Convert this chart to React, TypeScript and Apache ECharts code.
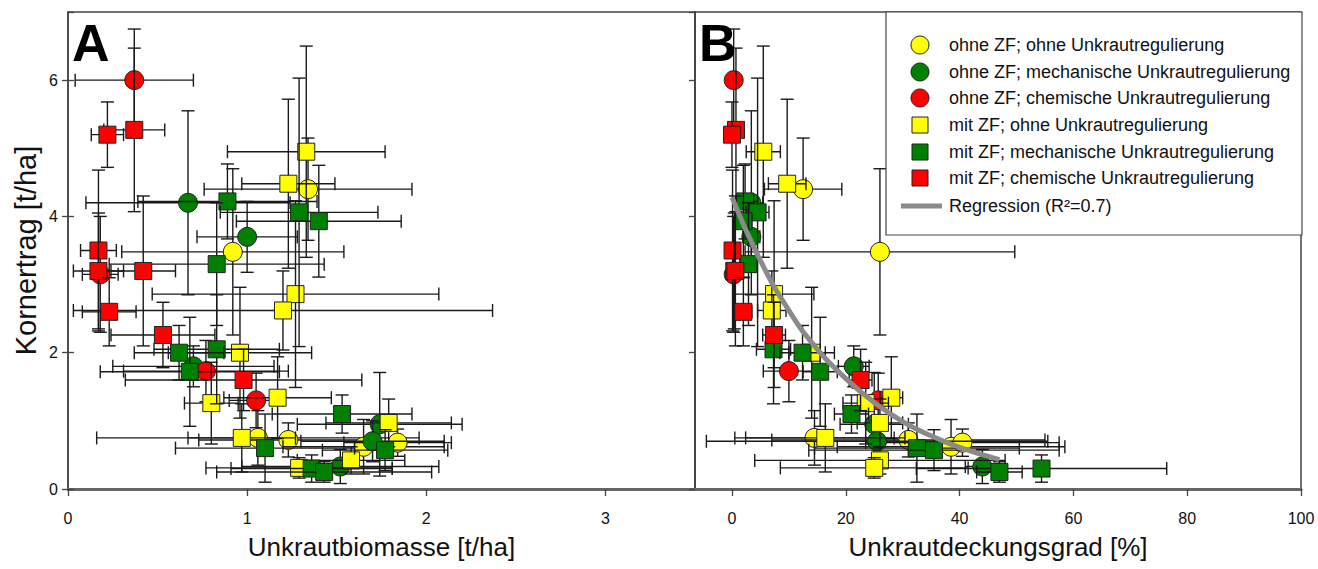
import React, { useEffect, useRef } from "react";
import * as echarts from "echarts";

// ---------- data ----------
// Group 1: ohne ZF; ohne Unkrautregulierung (yellow circle)
const g1Yield = [4.40, 3.48, 0.75, 0.72, 0.62, 0.68];
const g1YieldErr = [0.75, 1.22, 0.40, 0.25, 0.40, 0.20];
const g1Biomass = [1.34, 0.92, 1.06, 1.23, 1.65, 1.84];
const g1BiomassErr = [0.58, 0.62, 0.90, 0.50, 0.45, 0.30];
const g1Cover = [12.5, 26.0, 14.5, 31.0, 38.5, 40.5];
const g1CoverErr = [6.8, 23.7, 14.0, 24.0, 20.0, 17.0];

// Group 2: ohne ZF; mechanische Unkrautregulierung (green circle)
const g2Yield = [4.20, 3.70, 1.80, 0.95, 0.70, 0.33];
const g2YieldErr = [1.35, 0.52, 0.30, 0.76, 0.30, 0.25];
const g2Biomass = [0.67, 1.00, 0.70, 1.74, 1.70, 1.52];
const g2BiomassErr = [0.57, 0.28, 0.45, 0.46, 0.40, 0.55];
const g2Cover = [3.4, 3.4, 21.4, 25.0, 25.5, 44.0];
const g2CoverErr = [2.0, 1.5, 2.7, 6.0, 30.0, 3.0];

// Group 3: ohne ZF; chemische Unkrautregulierung (red circle)
const g3Yield = [6.00, 3.15, 1.73, 1.30];
const g3YieldErr = [0.75, 0.85, 0.45, 0.40];
const g3Biomass = [0.37, 0.18, 0.77, 1.05];
const g3BiomassErr = [0.33, 0.10, 0.46, 0.15];
const g3Cover = [0.3, 0.3, 10.0, 25.7];
const g3CoverErr = [0.8, 0.8, 4.5, 2.0];

// Group 4: mit ZF; ohne Unkrautregulierung (yellow square)
const g4Yield = [4.95, 4.48, 2.86, 2.62, 2.00, 1.34, 1.26, 0.97, 0.75, 0.42, 0.31];
const g4YieldErr = [1.55, 1.24, 1.37, 0.58, 0.96, 0.60, 0.60, 0.35, 0.50, 0.20, 0.15];
const g4Biomass = [1.33, 1.23, 1.27, 1.20, 0.96, 1.17, 0.80, 1.79, 0.97, 1.58, 1.29];
const g4BiomassErr = [0.44, 0.26, 0.80, 1.17, 0.40, 0.30, 0.15, 0.35, 0.30, 0.30, 0.52];
const g4Cover = [5.5, 9.7, 7.4, 7.0, 14.0, 28.0, 23.5, 26.0, 16.4, 26.0, 25.0];
const g4CoverErr = [3.0, 3.3, 7.0, 2.5, 4.0, 2.0, 4.0, 4.0, 14.0, 22.0, 16.5];

// Group 5: mit ZF; mechanische Unkrautregulierung (green square)
const g5Yield = [4.22, 4.06, 3.93, 3.30, 2.05, 2.00, 1.72, 1.10, 0.60, 0.57, 0.30, 0.25];
const g5YieldErr = [0.55, 1.97, 0.82, 0.90, 0.80, 0.40, 0.80, 0.28, 0.50, 0.30, 0.20, 0.15];
const g5Biomass = [0.89, 1.29, 1.40, 0.83, 0.83, 0.62, 0.68, 1.53, 1.10, 1.77, 1.36, 1.43];
const g5BiomassErr = [0.50, 0.44, 0.46, 0.60, 0.35, 0.25, 0.50, 0.39, 0.50, 0.35, 0.45, 0.60];
const g5Cover = [2.3, 4.5, 2.0, 2.9, 7.3, 12.4, 15.5, 21.0, 32.5, 35.5, 54.4, 47.0];
const g5CoverErr = [1.5, 2.0, 1.5, 1.5, 3.0, 4.0, 3.0, 3.0, 18.0, 22.0, 22.0, 4.0];

// Group 6: mit ZF; chemische Unkrautregulierung (red square)
const g6Yield = [5.27, 5.20, 3.50, 3.20, 3.20, 2.60, 2.26, 1.60];
const g6YieldErr = [1.20, 0.48, 1.18, 0.85, 1.10, 0.50, 0.48, 0.45];
const g6Biomass = [0.37, 0.22, 0.17, 0.17, 0.42, 0.23, 0.53, 0.98];
const g6BiomassErr = [0.17, 0.09, 0.10, 0.14, 0.18, 0.15, 0.29, 0.66];
const g6Cover = [0.7, 0.0, 0.1, 0.4, 0.6, 2.0, 7.4, 22.6];
const g6CoverErr = [0.8, 0.8, 0.8, 0.8, 0.8, 1.5, 2.0, 2.0];

// Regression curve in panel B
const regX = [0, 5, 10, 15, 20, 25, 30, 35, 40, 47];
const regY = [4.28, 3.35, 2.62, 2.05, 1.62, 1.27, 0.99, 0.78, 0.61, 0.43];

const groupNames = [
  "ohne ZF; ohne Unkrautregulierung",
  "ohne ZF; mechanische Unkrautregulierung",
  "ohne ZF; chemische Unkrautregulierung",
  "mit ZF; ohne Unkrautregulierung",
  "mit ZF; mechanische Unkrautregulierung",
  "mit ZF; chemische Unkrautregulierung",
];
const regressionName = "Regression (R²=0.7)";

const xTicksB = [0, 20, 40, 60, 80, 100];

// ---------- styling ----------
const YELLOW = "#FFFF00";
const GREEN = "#008000";
const RED = "#FF0000";
const FONT = '"Liberation Sans", Arial, sans-serif';

const groups = [
  { name: groupNames[0], shape: "circle", color: YELLOW, y: g1Yield, ye: g1YieldErr, a: g1Biomass, ae: g1BiomassErr, b: g1Cover, be: g1CoverErr },
  { name: groupNames[1], shape: "circle", color: GREEN, y: g2Yield, ye: g2YieldErr, a: g2Biomass, ae: g2BiomassErr, b: g2Cover, be: g2CoverErr },
  { name: groupNames[2], shape: "circle", color: RED, y: g3Yield, ye: g3YieldErr, a: g3Biomass, ae: g3BiomassErr, b: g3Cover, be: g3CoverErr },
  { name: groupNames[3], shape: "rect", color: YELLOW, y: g4Yield, ye: g4YieldErr, a: g4Biomass, ae: g4BiomassErr, b: g4Cover, be: g4CoverErr },
  { name: groupNames[4], shape: "rect", color: GREEN, y: g5Yield, ye: g5YieldErr, a: g5Biomass, ae: g5BiomassErr, b: g5Cover, be: g5CoverErr },
  { name: groupNames[5], shape: "rect", color: RED, y: g6Yield, ye: g6YieldErr, a: g6Biomass, ae: g6BiomassErr, b: g6Cover, be: g6CoverErr },
];

function makeRender(shape: string, color: string) {
  return (_params: any, api: any) => {
    const x = api.value(0);
    const y = api.value(1);
    const xe = api.value(2);
    const ye = api.value(3);
    const c = api.coord([x, y]);
    const l = api.coord([x - xe, y]);
    const r = api.coord([x + xe, y]);
    const t = api.coord([x, y + ye]);
    const b = api.coord([x, y - ye]);
    const st = { stroke: "#1a1a1a", lineWidth: 1.4 };
    const cap = 6.5;
    const children: any[] = [
      { type: "line", shape: { x1: l[0], y1: c[1], x2: r[0], y2: c[1] }, style: st },
      { type: "line", shape: { x1: l[0], y1: c[1] - cap, x2: l[0], y2: c[1] + cap }, style: st },
      { type: "line", shape: { x1: r[0], y1: c[1] - cap, x2: r[0], y2: c[1] + cap }, style: st },
      { type: "line", shape: { x1: c[0], y1: t[1], x2: c[0], y2: b[1] }, style: st },
      { type: "line", shape: { x1: c[0] - cap, y1: t[1], x2: c[0] + cap, y2: t[1] }, style: st },
      { type: "line", shape: { x1: c[0] - cap, y1: b[1], x2: c[0] + cap, y2: b[1] }, style: st },
    ];
    const mstyle = { fill: color, stroke: "#222", lineWidth: 1 };
    if (shape === "circle") {
      children.push({ type: "circle", shape: { cx: c[0], cy: c[1], r: 9.5 }, style: mstyle });
    } else {
      children.push({ type: "rect", shape: { x: c[0] - 8.5, y: c[1] - 8.5, width: 17, height: 17 }, style: mstyle });
    }
    return { type: "group", children };
  };
}

function buildOption() {
  const series: any[] = [];
  groups.forEach((g) => {
    series.push({
      type: "custom",
      name: g.name,
      xAxisIndex: 0,
      yAxisIndex: 0,
      renderItem: makeRender(g.shape, g.color),
      encode: { x: 0, y: 1 },
      data: g.y.map((v, i) => [g.a[i], v, g.ae[i], g.ye[i]]),
      z: 2,
    });
  });
  groups.forEach((g) => {
    series.push({
      type: "custom",
      name: g.name,
      xAxisIndex: 1,
      yAxisIndex: 2,
      renderItem: makeRender(g.shape, g.color),
      encode: { x: 0, y: 1 },
      data: g.y.map((v, i) => [g.b[i], v, g.be[i], g.ye[i]]),
      z: 2,
    });
  });
  series.push({
    type: "line",
    name: regressionName,
    xAxisIndex: 1,
    yAxisIndex: 2,
    data: regX.map((x, i) => [x, regY[i]]),
    smooth: true,
    symbol: "none",
    lineStyle: { color: "#8a8a8a", width: 5 },
    z: 5,
  });

  const legendX = 920;
  const legendTextX = 949;
  const legendYs = [45, 72, 98, 125, 152, 178];
  const legendEls: any[] = [
    {
      type: "rect",
      shape: { x: 886, y: 12, width: 416, height: 223 },
      style: { fill: "#fff", stroke: "#444", lineWidth: 1.2 },
      z: 10,
    },
  ];
  groups.forEach((g, i) => {
    const cy = legendYs[i];
    if (g.shape === "circle") {
      legendEls.push({
        type: "circle",
        shape: { cx: legendX, cy, r: 9 },
        style: { fill: g.color, stroke: "#222", lineWidth: 1 },
        z: 11,
      });
    } else {
      legendEls.push({
        type: "rect",
        shape: { x: legendX - 8, y: cy - 8, width: 16, height: 16 },
        style: { fill: g.color, stroke: "#222", lineWidth: 1 },
        z: 11,
      });
    }
    legendEls.push({
      type: "text",
      x: legendTextX,
      y: cy,
      style: { text: g.name, fontSize: 18, fontFamily: FONT, fill: "#111", verticalAlign: "middle", align: "left" },
      z: 11,
    });
  });
  legendEls.push({
    type: "line",
    shape: { x1: 901, y1: 206, x2: 942, y2: 206 },
    style: { stroke: "#8a8a8a", lineWidth: 5 },
    z: 11,
  });
  legendEls.push({
    type: "text",
    x: legendTextX,
    y: 206,
    style: { text: regressionName, fontSize: 18, fontFamily: FONT, fill: "#111", verticalAlign: "middle", align: "left" },
    z: 11,
  });

  const axisLabelStyle = { fontSize: 16, fontFamily: FONT, color: "#111" };
  const nameStyle = { fontSize: 26, fontFamily: FONT, color: "#111" };

  return {
    animation: false,
    backgroundColor: "#fff",
    grid: [
      { left: 68, top: 12, width: 627, height: 477, show: true, borderColor: "#444", borderWidth: 1.5, backgroundColor: "transparent" },
      { left: 695, top: 12, width: 606, height: 477, show: true, borderColor: "#444", borderWidth: 1.5, backgroundColor: "transparent" },
    ],
    xAxis: [
      {
        gridIndex: 0,
        type: "value",
        min: 0,
        max: 3.5,
        interval: 1,
        axisLine: { show: true, onZero: false, lineStyle: { color: "#666", width: 3 } },
        axisTick: { show: true, inside: false, length: 7, lineStyle: { color: "#444", width: 1.3 } },
        axisLabel: { ...axisLabelStyle, margin: 21, showMaxLabel: false },
        splitLine: { show: false },
        name: "Unkrautbiomasse [t/ha]",
        nameLocation: "middle",
        nameGap: 45,
        nameTextStyle: nameStyle,
      },
      {
        gridIndex: 1,
        type: "value",
        min: -6.5,
        max: 100,
        axisLine: { show: true, onZero: false, lineStyle: { color: "#666", width: 3 } },
        axisTick: { show: true, inside: false, length: 7, customValues: xTicksB, lineStyle: { color: "#444", width: 1.3 } },
        axisLabel: { ...axisLabelStyle, margin: 21, customValues: xTicksB, formatter: (v: number) => String(v) },
        splitLine: { show: false },
        name: "Unkrautdeckungsgrad [%]",
        nameLocation: "middle",
        nameGap: 45,
        nameTextStyle: nameStyle,
      },
    ],
    yAxis: [
      {
        gridIndex: 0,
        type: "value",
        min: 0,
        max: 7,
        interval: 2,
        axisLine: { show: true, onZero: false, lineStyle: { color: "#444", width: 1.5 } },
        axisTick: { show: true, inside: false, length: 6, lineStyle: { color: "#444", width: 1.3 } },
        axisLabel: { ...axisLabelStyle, margin: 10, showMaxLabel: false },
        splitLine: { show: false },
        name: "Kornertrag [t/ha]",
        nameLocation: "middle",
        nameGap: 28,
        nameTextStyle: { ...nameStyle, fontSize: 29 },
      },
      {
        gridIndex: 0,
        type: "value",
        position: "right",
        min: 0,
        max: 7,
        interval: 2,
        axisLine: { show: false },
        axisTick: { show: true, inside: false, length: 6, lineStyle: { color: "#444", width: 1.3 } },
        axisLabel: { show: false },
        splitLine: { show: false },
      },
      {
        gridIndex: 1,
        type: "value",
        min: 0,
        max: 7,
        interval: 2,
        axisLine: { show: true, onZero: false, lineStyle: { color: "#444", width: 1.5 } },
        axisTick: { show: true, inside: false, length: 6, lineStyle: { color: "#444", width: 1.3 } },
        axisLabel: { show: false },
        splitLine: { show: false },
      },
    ],
    graphic: [
      {
        type: "text",
        left: 72,
        top: 17,
        style: { text: "A", fontSize: 52, fontWeight: "bold", fontFamily: FONT, fill: "#000" },
        z: 12,
      },
      {
        type: "text",
        left: 699,
        top: 17,
        style: { text: "B", fontSize: 52, fontWeight: "bold", fontFamily: FONT, fill: "#000" },
        z: 12,
      },
      ...legendEls,
    ],
    series,
  };
}

export default function App() {
  const ref = useRef<HTMLDivElement>(null);
  useEffect(() => {
    if (!ref.current) return;
    const chart = echarts.init(ref.current, undefined, { renderer: "svg" });
    chart.setOption(buildOption() as any);
    return () => chart.dispose();
  }, []);
  return (
    <div
      ref={ref}
      style={{ position: "absolute", left: 0, top: 0, width: 1318, height: 569, background: "#fff" }}
    />
  );
}
